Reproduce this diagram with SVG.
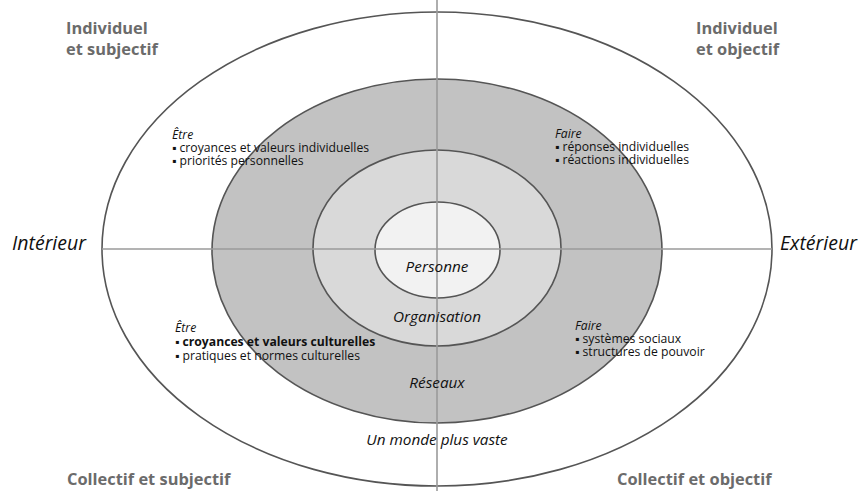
<svg xmlns="http://www.w3.org/2000/svg" width="858" height="491" viewBox="0 0 858 491">
<style>
.ring{stroke:#555;stroke-width:1.6}
.axis{stroke:#9a9a9a;stroke-width:1.6;fill:none}
.q{font-family:"Open Sans","Liberation Sans",sans-serif;font-weight:bold;font-size:16.4px;fill:#6b6b6b}
.side{font-family:"Open Sans","Liberation Sans",sans-serif;font-style:italic;font-size:19.5px;fill:#111}
.lab{font-family:"Open Sans","Liberation Sans",sans-serif;font-style:italic;font-size:15.3px;fill:#111;text-anchor:middle}
.t{font-family:"Open Sans","Liberation Sans",sans-serif;font-size:12.2px;fill:#111}
.ti{font-style:italic}
.b{font-weight:bold}
</style>
<rect width="858" height="491" fill="#fff"/>
<g id="monde">
<ellipse class="ring" cx="437" cy="249" rx="335" ry="237" fill="#fff"/>
</g>
<g id="reseaux">
<ellipse class="ring" cx="437" cy="251" rx="225" ry="172" fill="#c2c2c2"/>
</g>
<g id="organisation">
<ellipse class="ring" cx="437" cy="248" rx="124" ry="98" fill="#d9d9d9"/>
</g>
<g id="personne">
<ellipse class="ring" cx="437.5" cy="250" rx="62.5" ry="48" fill="#f2f2f2"/>
</g>
<g id="connectors">
<line class="axis" x1="437" y1="0" x2="437" y2="491"/>
<line class="axis" x1="102" y1="249" x2="772" y2="249"/>
</g>
<g id="labels-rings">
<text class="lab" x="437" y="272">Personne</text>
<text class="lab" x="437" y="322">Organisation</text>
<text class="lab" x="437" y="388">Réseaux</text>
<text class="lab" x="437" y="445">Un monde plus vaste</text>
</g>
<g id="quadrants">
<text class="q" x="66" y="34">Individuel</text>
<text class="q" x="66" y="55">et subjectif</text>
<text class="q" x="696" y="34">Individuel</text>
<text class="q" x="696" y="55">et objectif</text>
<text class="q" x="67" y="485">Collectif et subjectif</text>
<text class="q" x="617" y="485">Collectif et objectif</text>
</g>
<g id="sides">
<text class="side" x="12" y="250">Intérieur</text>
<text class="side" x="780" y="250">Extérieur</text>
</g>
<g id="tl">
<text class="t ti" x="172" y="139">Être</text>
<text class="t" x="172" y="152">▪ croyances et valeurs individuelles</text>
<text class="t" x="172" y="165">▪ priorités personnelles</text>
</g>
<g id="tr">
<text class="t ti" x="555" y="138">Faire</text>
<text class="t" x="555" y="151">▪ réponses individuelles</text>
<text class="t" x="555" y="164">▪ réactions individuelles</text>
</g>
<g id="bl">
<text class="t ti" x="175" y="332">Être</text>
<text class="t" x="175" y="346">▪ <tspan class="b">croyances et valeurs culturelles</tspan></text>
<text class="t" x="175" y="360">▪ pratiques et normes culturelles</text>
</g>
<g id="br">
<text class="t ti" x="575" y="330">Faire</text>
<text class="t" x="575" y="343">▪ systèmes sociaux</text>
<text class="t" x="575" y="356">▪ structures de pouvoir</text>
</g>
</svg>
